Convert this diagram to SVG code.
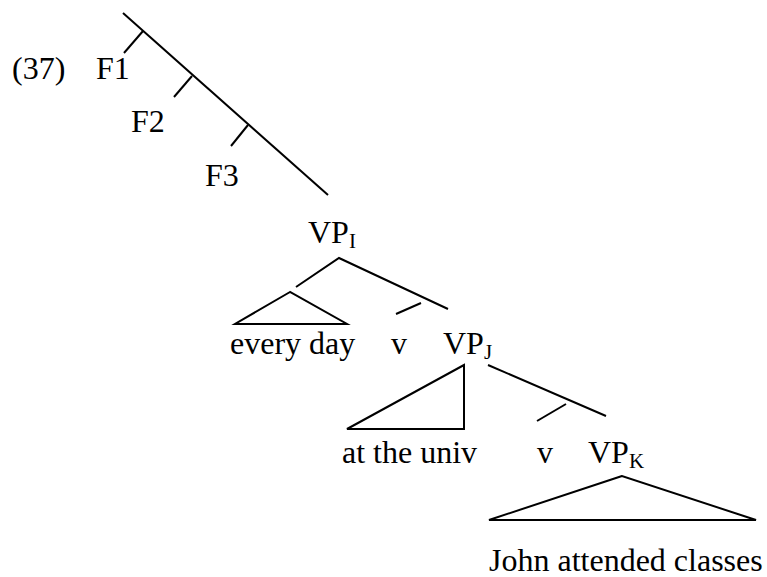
<svg xmlns="http://www.w3.org/2000/svg" width="767" height="577" viewBox="0 0 767 577">
<style>
text{font-family:"Liberation Serif","Times New Roman",serif;font-size:32px;fill:#000}
.sub{font-size:21px}
line,polyline,polygon{stroke:#000;stroke-width:2;fill:none;stroke-linecap:butt}
</style>
<rect width="767" height="577" fill="#fff"/>
<g id="connectors">
<line x1="123" y1="13" x2="328" y2="195"/>
<line x1="143" y1="31" x2="124" y2="53"/>
<line x1="192" y1="76" x2="174" y2="97"/>
<line x1="248" y1="125" x2="231" y2="146"/>
<polyline points="296,287 339,258 448,309"/>
<polygon points="290,292 235,324 347,324"/>
<line x1="396" y1="314" x2="421" y2="303"/>
<polygon points="464,365 347,429 464,429"/>
<line x1="488" y1="365" x2="606" y2="416"/>
<line x1="537" y1="421" x2="566" y2="404"/>
<polygon points="622,476 489,520 756,520"/>
</g>
<g id="label37"><text x="12" y="79">(37)</text></g>
<g id="F1"><text x="96" y="79">F1</text></g>
<g id="F2"><text x="131" y="132">F2</text></g>
<g id="F3"><text x="205" y="186">F3</text></g>
<g id="VPI"><text x="308" y="243">VP<tspan class="sub" dy="5">I</tspan></text></g>
<g id="everyday"><text x="230" y="354">every day</text></g>
<g id="v1"><text x="391" y="354">v</text></g>
<g id="VPJ"><text x="443" y="354">VP<tspan class="sub" dy="5">J</tspan></text></g>
<g id="attheuniv"><text x="342" y="463">at the univ</text></g>
<g id="v2"><text x="537" y="463">v</text></g>
<g id="VPK"><text x="588" y="463">VP<tspan class="sub" dy="5">K</tspan></text></g>
<g id="john"><text x="489" y="571">John attended classes</text></g>
</svg>
